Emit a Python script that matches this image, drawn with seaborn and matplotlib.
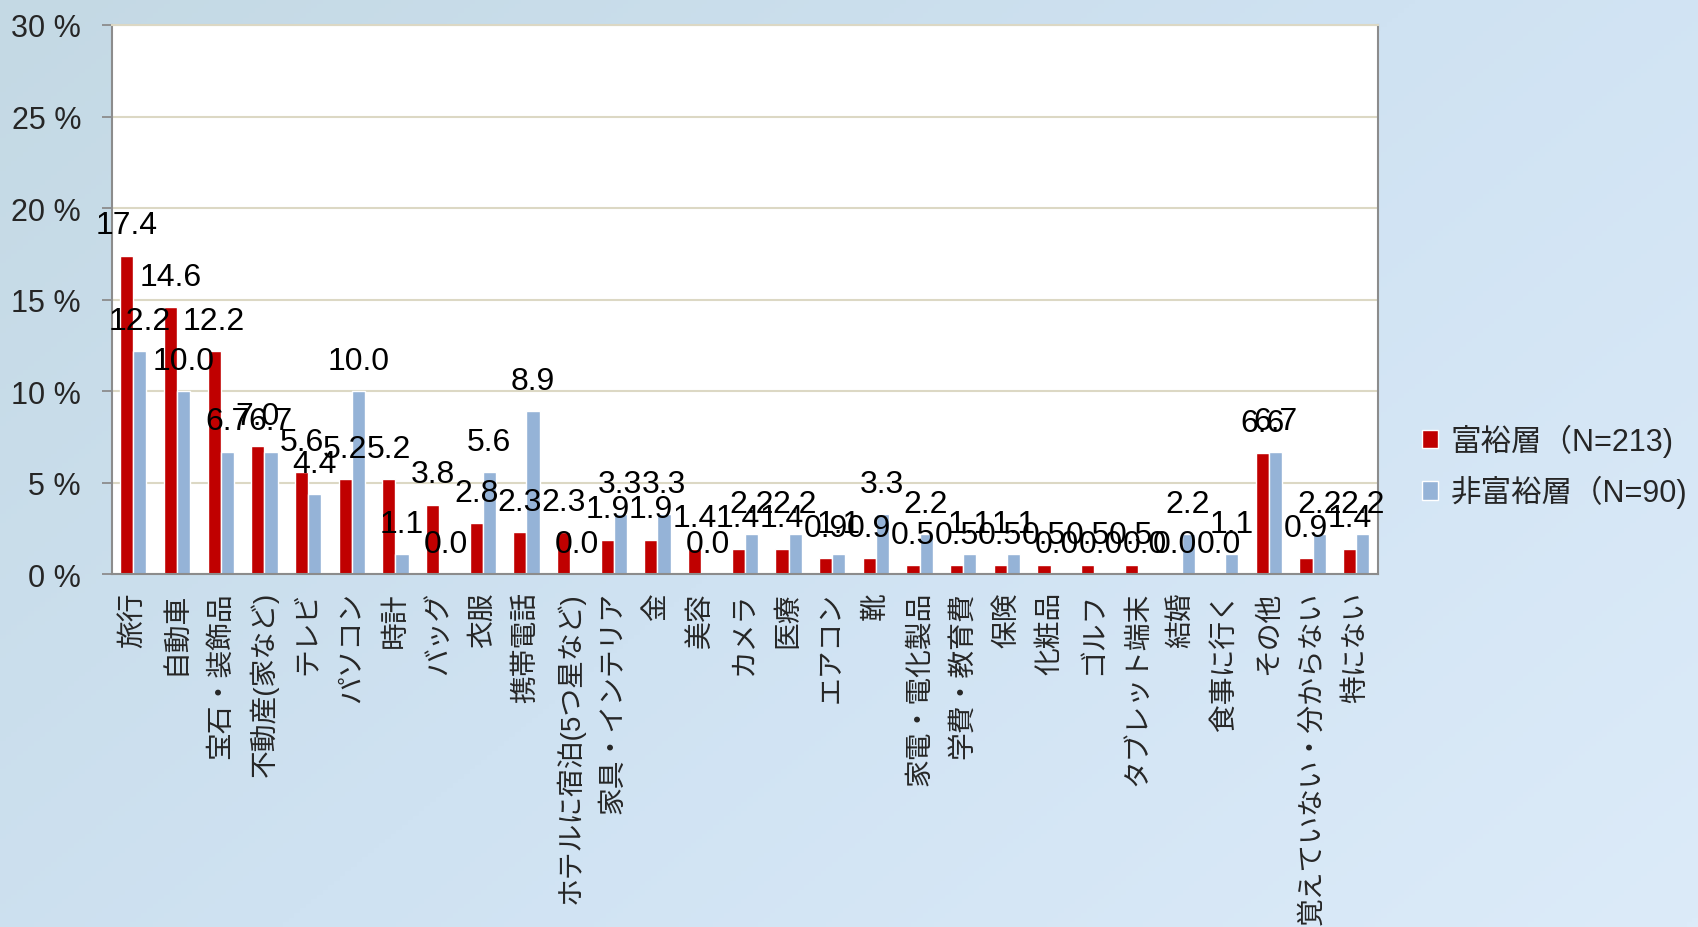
import numpy as np
import pandas as pd
import matplotlib
matplotlib.use('Agg')
import matplotlib.pyplot as plt
import seaborn as sns
from matplotlib.colors import LinearSegmentedColormap

# ---- data ----
items = ['旅行', '自動車', '宝石・装飾品', '不動産(家など)', 'テレビ', 'パソコン', '時計',
         'バッグ', '衣服', '携帯電話', 'ホテルに宿泊(5つ星など)', '家具・インテリア', '金',
         '美容', 'カメラ', '医療', 'エアコン', '靴', '家電・電化製品', '学費・教育費', '保険',
         '化粧品', 'ゴルフ', 'タブレット端末', '結婚', '食事に行く', 'その他',
         '覚えていない・分からない', '特にない']
wealthy = [17.4, 14.6, 12.2, 7.0, 5.6, 5.2, 5.2, 3.8, 2.8, 2.3, 2.3, 1.9, 1.9, 1.4, 1.4,
           1.4, 0.9, 0.9, 0.5, 0.5, 0.5, 0.5, 0.5, 0.5, 0.0, 0.0, 6.6, 0.9, 1.4]
non_wealthy = [12.2, 10.0, 6.7, 6.7, 4.4, 10.0, 1.1, 0.0, 5.6, 8.9, 0.0, 3.3, 3.3, 0.0, 2.2,
               2.2, 1.1, 3.3, 2.2, 1.1, 1.1, 0.0, 0.0, 0.0, 2.2, 1.1, 6.7, 2.2, 2.2]
groups = ['富裕層（N=213)', '非富裕層（N=90)']
y_ticks = [0, 5, 10, 15, 20, 25, 30]

df = pd.DataFrame({
    'item': items * 2,
    'value': wealthy + non_wealthy,
    'group': [groups[0]] * len(items) + [groups[1]] * len(items),
})

sns.set_theme(style='white')
plt.rcParams['font.family'] = ['Liberation Sans', 'Noto Sans CJK JP']

fig = plt.figure(figsize=(16.98, 9.28), dpi=100)

# light blue slide background
bg = fig.add_axes([0, 0, 1, 1], zorder=0)
yy, xx = np.mgrid[0:1:200j, 0:1:300j]
grad = 0.6 * xx + 0.4 * yy
cmap = LinearSegmentedColormap.from_list('bg', ['#c4d9e4', '#cfe2f2', '#dcebf9'])
bg.imshow(grad, aspect='auto', cmap=cmap, extent=[0, 1, 0, 1], origin='upper')
bg.axis('off')

ax = fig.add_axes([0.0657, 0.380, 0.7459, 0.592], zorder=1)
ax.set_facecolor('white')

sns.barplot(data=df, x='item', y='value', hue='group', palette=['#c00000', '#95b3d7'],
            saturation=1, width=0.6, ax=ax, legend=True)

for cont in ax.containers:
    ax.bar_label(cont, fmt='%.1f', padding=11, fontsize=23, color='black')

ax.set_ylim(0, 30)
ax.set_xlim(-0.5, len(items) - 0.5)
ax.set_yticks(y_ticks)
ax.set_yticklabels([f'{t} %' for t in y_ticks], fontsize=22)
ax.set_xlabel('')
ax.set_ylabel('')
ax.set_xticks(range(len(items)))
ax.set_xticklabels(items, rotation=90, ha='center', va='top', fontsize=20)
ax.set_xticks(np.arange(-0.5, len(items), 1), minor=True)
ax.tick_params(axis='x', which='major', length=0, pad=12)
ax.tick_params(axis='x', which='minor', length=7, width=1.3, color='#8c8c8c', direction='out')
ax.tick_params(axis='y', length=7, width=1.3, color='#8c8c8c', direction='out', pad=15, left=True)

ax.grid(axis='y', color='#dcd8c4', linewidth=1.5)
ax.set_axisbelow(True)
for side in ['left', 'bottom', 'right']:
    ax.spines[side].set_color('#8c8c8c')
    ax.spines[side].set_linewidth(1.5)
ax.spines['top'].set_color('#dcd8c4')
ax.spines['top'].set_linewidth(1.5)

handles, labels = ax.get_legend_handles_labels()
ax.legend_.remove()
fig.legend(handles, labels, loc='center left', bbox_to_anchor=(0.821, 0.497), frameon=False,
           fontsize=22, handlelength=0.55, handleheight=0.55, handletextpad=0.4, labelspacing=0.6)

fig.savefig('out.png', dpi=100)
